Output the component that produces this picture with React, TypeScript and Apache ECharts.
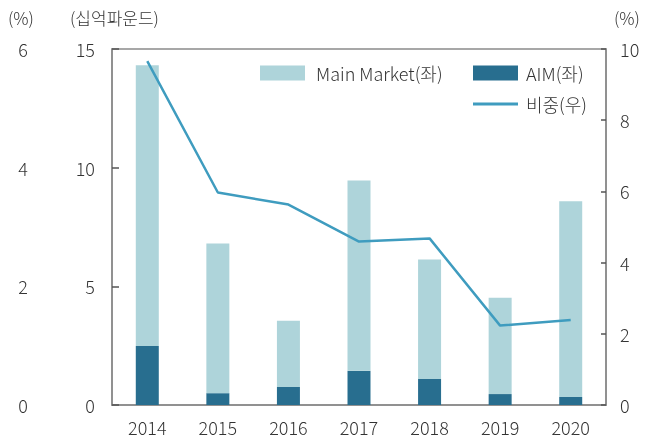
import React, { useEffect, useRef } from "react";
import * as echarts from "echarts";

const years = ["2014", "2015", "2016", "2017", "2018", "2019", "2020"];
const aim = [2.49, 0.5, 0.76, 1.44, 1.1, 0.46, 0.34];
const mainMarket = [11.83, 6.3, 2.79, 8.02, 5.03, 4.06, 8.24];
const share = [9.66, 5.97, 5.63, 4.59, 4.68, 2.23, 2.39];
const leftTicks = { min: 0, max: 15, interval: 5 };
const rightTicks = { min: 0, max: 10, interval: 2 };
const farLeftTicks = { min: 0, max: 6, interval: 2 };

const FONT = "'Noto Sans CJK KR', 'Noto Sans', sans-serif";
const TXT = "#333";

export default function App() {
  const ref = useRef<HTMLDivElement>(null);
  useEffect(() => {
    if (!ref.current) return;
    const chart = echarts.init(ref.current, undefined, { renderer: "svg" });
    const labelStyle = { color: TXT, fontSize: 18, fontFamily: FONT, fontWeight: 300 };
    const tickStyle = { color: "#555", width: 1.5 };
    const legendText = { color: TXT, fontSize: 18, fontFamily: FONT, fontWeight: 300 };
    chart.setOption({
      animation: false,
      textStyle: { fontFamily: FONT },
      grid: {
        left: 112,
        right: 44,
        top: 49,
        bottom: 34,
        show: true,
        borderColor: "#8a8a8a",
        borderWidth: 1.5,
        backgroundColor: "transparent",
      },
      graphic: [
        { type: "text", left: 8, top: 9, style: { text: "(%)", fill: TXT, font: `300 17px ${FONT}` } },
        { type: "text", left: 70, top: 9, style: { text: "(십억파운드)", fill: TXT, font: `300 17px ${FONT}` } },
        { type: "text", left: 614, top: 9, style: { text: "(%)", fill: TXT, font: `300 17px ${FONT}` } },
      ],
      legend: [
        {
          data: [{ name: "Main Market(좌)", icon: "rect" }],
          left: 260,
          top: 64,
          padding: 0,
          itemWidth: 45,
          itemHeight: 15,
          textStyle: { ...legendText, padding: [0, 0, 0, 6] },
        },
        {
          data: [
            { name: "AIM(좌)", icon: "rect" },
            { name: "비중(우)", icon: "path://M0,0 L45,0 L45,3 L0,3 Z" },
          ],
          orient: "vertical",
          left: 473,
          top: 64,
          padding: 0,
          itemWidth: 45,
          itemHeight: 15,
          itemGap: 13,
          textStyle: { ...legendText, padding: [0, 0, 0, 3] },
        },
      ],
      xAxis: {
        type: "category",
        data: years,
        axisLine: { lineStyle: { color: "#8a8a8a", width: 1.5 } },
        axisTick: { inside: true, length: 6, lineStyle: tickStyle },
        axisLabel: { ...labelStyle, margin: 13 },
      },
      yAxis: [
        {
          type: "value",
          position: "left",
          ...leftTicks,
          axisLine: { show: true, lineStyle: { color: "#8a8a8a", width: 1.5 } },
          axisTick: { show: true, inside: true, length: 7, lineStyle: tickStyle },
          splitLine: { show: false },
          axisLabel: { ...labelStyle, margin: 17 },
        },
        {
          type: "value",
          position: "right",
          ...rightTicks,
          axisLine: { show: true, lineStyle: { color: "#8a8a8a", width: 1.5 } },
          axisTick: { show: true, inside: true, length: 5, lineStyle: tickStyle },
          splitLine: { show: false },
          axisLabel: { ...labelStyle, margin: 14 },
        },
        {
          type: "value",
          position: "left",
          offset: 76,
          ...farLeftTicks,
          axisLine: { show: false },
          axisTick: { show: false },
          splitLine: { show: false },
          axisLabel: { ...labelStyle, margin: 8 },
        },
      ],
      series: [
        {
          name: "AIM(좌)",
          type: "bar",
          stack: "total",
          barWidth: 23,
          data: aim,
          itemStyle: { color: "#286e8f" },
        },
        {
          name: "Main Market(좌)",
          type: "bar",
          stack: "total",
          barWidth: 23,
          data: mainMarket,
          itemStyle: { color: "#aed4da" },
        },
        {
          name: "비중(우)",
          type: "line",
          yAxisIndex: 1,
          data: share,
          symbol: "none",
          lineStyle: { color: "#3f9cbf", width: 2.5 },
          itemStyle: { color: "#3f9cbf" },
        },
      ],
    });
    return () => chart.dispose();
  }, []);
  return <div ref={ref} style={{ width: 650, height: 439, position: "fixed", left: 0, top: 0 }} />;
}
